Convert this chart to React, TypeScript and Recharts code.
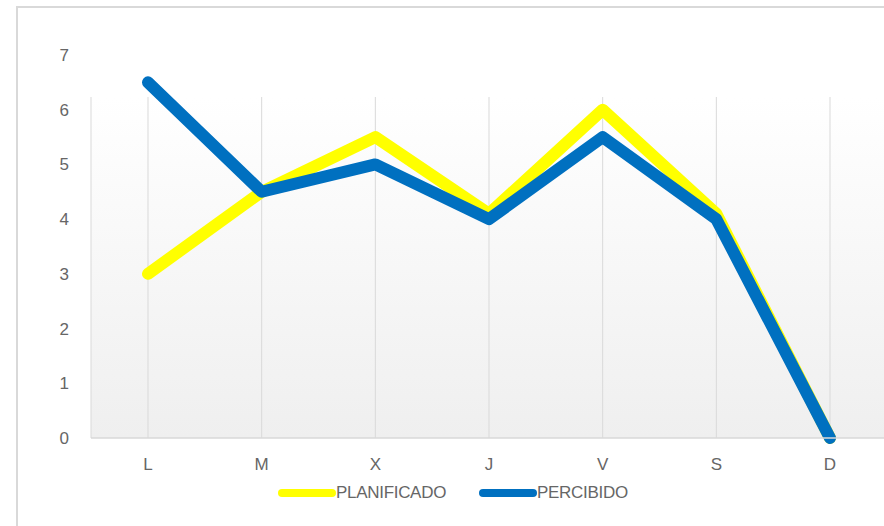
import React from 'react';
import { LineChart, Line, XAxis, YAxis, CartesianGrid } from 'recharts';

const categories = ['L', 'M', 'X', 'J', 'V', 'S', 'D'];
const planificado = [3, 4.5, 5.5, 4.1, 6, 4.1, 0];
const percibido = [6.5, 4.5, 5, 4, 5.5, 4, 0];
const yTicks = [0, 1, 2, 3, 4, 5, 6, 7];

const seriesNames = { plan: 'PLANIFICADO', perc: 'PERCIBIDO' };
const colors = { plan: '#FFFF00', perc: '#0070C0' };

const data = categories.map((c, i) => ({ name: c, plan: planificado[i], perc: percibido[i] }));

const FONT = "'Liberation Sans', Arial, sans-serif";
const TEXT = '#666666';

function LegendBox() {
  const items = [
    { key: 'plan', label: seriesNames.plan, color: colors.plan, left: 276 },
    { key: 'perc', label: seriesNames.perc, color: colors.perc, left: 477 },
  ];
  return (
    <>
      {items.map((it) => (
        <div key={it.key} style={{ position: 'absolute', left: it.left, top: 484, display: 'flex', alignItems: 'center', fontFamily: FONT, fontSize: 17, color: TEXT, whiteSpace: 'nowrap' }}>
          <svg width={60} height={18} style={{ display: 'block' }}>
            <line x1={6} y1={9} x2={56} y2={9} stroke={it.color} strokeWidth={8} strokeLinecap="round" />
          </svg>
          <span style={{ letterSpacing: -0.3, lineHeight: '18px' }}>{it.label}</span>
        </div>
      ))}
    </>
  );
}

export default function App() {
  return (
    <div style={{ position: 'absolute', left: 0, top: 0, width: 884, height: 526, overflow: 'hidden', background: '#fff' }}>
      <div style={{ position: 'absolute', left: 16, top: 6, width: 900, height: 540, border: '2px solid #d9d9d9', boxSizing: 'border-box' }} />
      <div style={{ position: 'absolute', left: 0, top: 0 }}>
        <LineChart width={900} height={526} data={data} margin={{ top: 55, right: 13, bottom: 58, left: 41 }}>
          <defs>
            <linearGradient id="plotGrad" x1="0" y1="0" x2="0" y2="1">
              <stop offset="0%" stopColor="#ffffff" />
              <stop offset="100%" stopColor="#efefef" />
            </linearGradient>
          </defs>
          <CartesianGrid y={97} height={341} horizontal={false} vertical={true} stroke="#d9d9d9" fill="url(#plotGrad)" />
          <XAxis
            dataKey="name"
            padding={{ left: 57, right: 57 }}
            axisLine={{ stroke: '#d9d9d9', strokeWidth: 1.5 }}
            tickLine={false}
            tick={{ fill: TEXT, fontSize: 17, fontFamily: FONT }}
            tickMargin={14}
          />
          <YAxis
            width={50}
            domain={[0, 7]}
            ticks={yTicks}
            axisLine={false}
            tickLine={false}
            tick={{ fill: TEXT, fontSize: 17, fontFamily: FONT }}
            tickMargin={16}
          />
          <Line type="linear" dataKey="plan" name={seriesNames.plan} stroke={colors.plan} strokeWidth={12} dot={false} activeDot={false} strokeLinejoin="round" strokeLinecap="round" isAnimationActive={false} />
          <Line type="linear" dataKey="perc" name={seriesNames.perc} stroke={colors.perc} strokeWidth={12} dot={false} activeDot={false} strokeLinejoin="round" strokeLinecap="round" isAnimationActive={false} />
        </LineChart>
      </div>
      <LegendBox />
    </div>
  );
}
